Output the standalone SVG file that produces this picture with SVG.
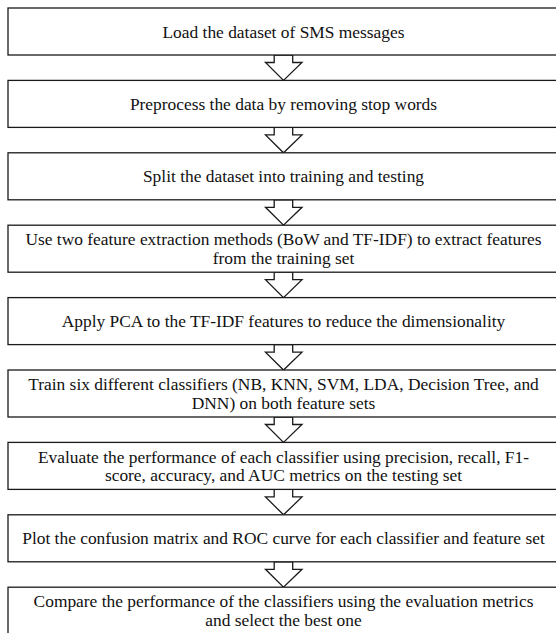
<svg xmlns="http://www.w3.org/2000/svg" width="556" height="633" viewBox="0 0 556 633">
<style>
.box{fill:#ffffff;stroke:#1a1a1a;stroke-width:1.3}
.arr{fill:#ffffff;stroke:#1a1a1a;stroke-width:1.3;stroke-linejoin:miter}
text{font-family:'Liberation Serif','Times New Roman',Times,serif;font-size:17.4px;fill:#111111;text-anchor:middle}
</style>
<rect width="556" height="633" fill="#ffffff"/>
<g id="connectors">
<polygon class="arr" points="274.2,55 274.2,62.5 265.5,62.5 283.5,80.4 302,62.5 292.7,62.5 292.7,55"/>
<polygon class="arr" points="274.2,127.4 274.2,134.9 265.5,134.9 283.5,152.8 302,134.9 292.7,134.9 292.7,127.4"/>
<polygon class="arr" points="274.2,199.8 274.2,207.3 265.5,207.3 283.5,225.2 302,207.3 292.7,207.3 292.7,199.8"/>
<polygon class="arr" points="274.2,272.2 274.2,279.7 265.5,279.7 283.5,297.6 302,279.7 292.7,279.7 292.7,272.2"/>
<polygon class="arr" points="274.2,344.6 274.2,352.1 265.5,352.1 283.5,370 302,352.1 292.7,352.1 292.7,344.6"/>
<polygon class="arr" points="274.2,417 274.2,424.5 265.5,424.5 283.5,442.4 302,424.5 292.7,424.5 292.7,417"/>
<polygon class="arr" points="274.2,489.4 274.2,496.9 265.5,496.9 283.5,514.8 302,496.9 292.7,496.9 292.7,489.4"/>
<polygon class="arr" points="274.2,561.8 274.2,569.3 265.5,569.3 283.5,587.2 302,569.3 292.7,569.3 292.7,561.8"/>
</g>
<g id="n1">
<rect class="box" x="8" y="8" width="551" height="47"/>
<text x="283.5" y="37.5">Load the dataset of SMS messages</text>
</g>
<g id="n2">
<rect class="box" x="8" y="80.4" width="551" height="47"/>
<text x="283.5" y="109.9">Preprocess the data by removing stop words</text>
</g>
<g id="n3">
<rect class="box" x="8" y="152.8" width="551" height="47"/>
<text x="283.5" y="182.3">Split the dataset into training and testing</text>
</g>
<g id="n4">
<rect class="box" x="8" y="225.2" width="551" height="47"/>
<text x="283.5" y="245.4">Use two feature extraction methods (BoW and TF-IDF) to extract features</text>
<text x="283.5" y="264">from the training set</text>
</g>
<g id="n5">
<rect class="box" x="8" y="297.6" width="551" height="47"/>
<text x="283.5" y="327.1">Apply PCA to the TF-IDF features to reduce the dimensionality</text>
</g>
<g id="n6">
<rect class="box" x="8" y="370" width="551" height="47"/>
<text x="283.5" y="390.2">Train six different classifiers (NB, KNN, SVM, LDA, Decision Tree, and</text>
<text x="283.5" y="408.8">DNN) on both feature sets</text>
</g>
<g id="n7">
<rect class="box" x="8" y="442.4" width="551" height="47"/>
<text x="283.5" y="462.6">Evaluate the performance of each classifier using precision, recall, F1-</text>
<text x="283.5" y="481.2">score, accuracy, and AUC metrics on the testing set</text>
</g>
<g id="n8">
<rect class="box" x="8" y="514.8" width="551" height="47"/>
<text x="283.5" y="544.3">Plot the confusion matrix and ROC curve for each classifier and feature set</text>
</g>
<g id="n9">
<rect class="box" x="8" y="587.2" width="551" height="47"/>
<text x="283.5" y="607.4">Compare the performance of the classifiers using the evaluation metrics</text>
<text x="283.5" y="626">and select the best one</text>
</g>
</svg>
